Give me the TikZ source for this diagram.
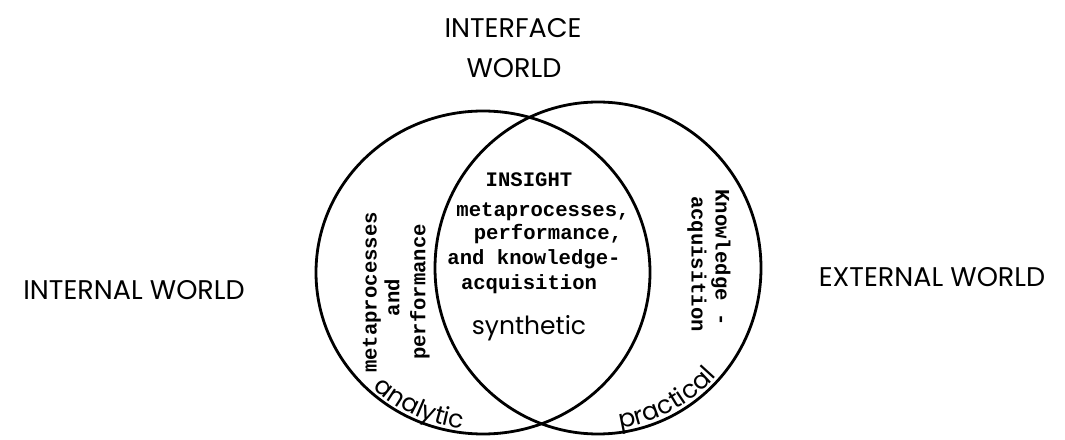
\documentclass[tikz,border=0pt]{standalone}
\usepackage{fontspec}
\setmainfont{Poppins}
\newfontfamily\monof{Liberation Mono}
\usetikzlibrary{decorations.text}
\newcommand\arcfont{\fontsize{25}{28}\selectfont}
\tikzset{
  ring/.style={line width=2.8pt},
  title/.style={font=\fontsize{27}{30}\selectfont, inner sep=0pt, anchor=base},
  mono/.style={font=\monof\bfseries\fontsize{20.6}{24}\selectfont, inner sep=0pt, anchor=base},
  vmono/.style={font=\monof\bfseries\fontsize{20.6}{24}\selectfont, inner sep=0pt},
  sidelabel/.style={font=\fontsize{25}{28}\selectfont, inner sep=0pt, anchor=base},
  arctext/.style={decorate, decoration={text along path, text align=center, text={|\arcfont|#1}}}
}
\begin{document}
\begin{tikzpicture}[x=1pt,y=1pt]
\useasboundingbox (0,0) rectangle (1065,439);
\coordinate (cL) at (483,166.5);
\coordinate (cR) at (598,171);
\draw[ring] (cL) ellipse [x radius=167pt, y radius=161.5pt];
\draw[ring] (cR) ellipse [x radius=163pt, y radius=166pt];

\node[title] (interface) at (513,401) {INTERFACE};
\node[title] (iworld) at (514,361) {WORLD};
\node[title] (internal) at (134,139) {INTERNAL WORLD};
\node[title] (external) at (932,152) {EXTERNAL WORLD};

\node[mono] (insight) at (529,252) {INSIGHT};
\node[mono] (m1) at (543,222) {metaprocesses,};
\node[mono] (m2) at (548,199) {performance,};
\node[mono] (m3) at (534,174) {and knowledge-};
\node[mono] (m4) at (529,149) {acquisition};
\node[sidelabel] (synth) at (529,104) {synthetic};

\node[vmono, rotate=90] (lmeta) at (372,146.5) {metaprocesses};
\node[vmono, rotate=90] (land) at (392,141.5) {and};
\node[vmono, rotate=90] (lperf) at (420,147) {performance};

\node[vmono, rotate=-90] (rknow) at (721,181.5) {Knowledge -};
\node[vmono, rotate=-90] (racq) at (697,175) {acquisition};

\path[arctext=analytic] (cL) ++(215:163pt and 157.5pt)
  arc[start angle=215, end angle=275, x radius=163pt, y radius=157.5pt];
\path[arctext=practical] (cR) ++(268:159pt and 162pt)
  arc[start angle=268, end angle=328, x radius=159pt, y radius=162pt];
\end{tikzpicture}
\end{document}
